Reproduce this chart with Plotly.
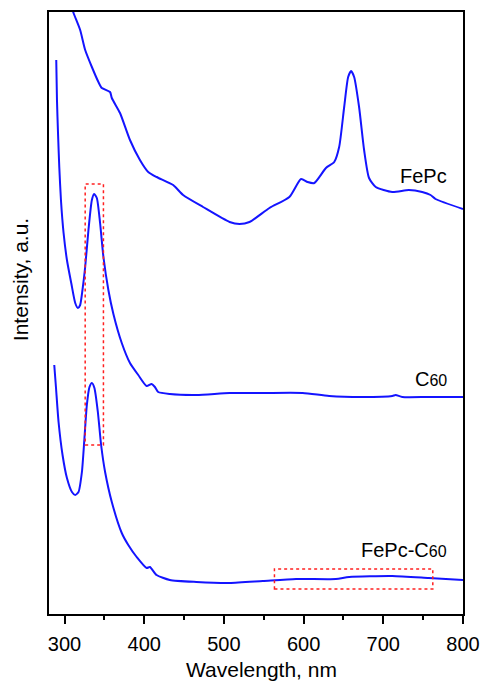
import plotly.graph_objects as go

# ---- data (wavelength in nm, intensity in arbitrary units, offset stacked) ----
fepc_wl = [307, 311.3, 319.6, 325.9, 334.3, 342.5, 346.8, 357.1, 359.3, 369.6, 382.1, 394.6,
           405.0, 415.5, 436.3, 448.8, 473.8, 507.1, 519.6, 532.1, 557.1, 582.1, 596.8, 605.0,
           613.4, 628.0, 638.4, 644.6, 650.9, 655.9, 659.6, 663.4, 669.6, 675.9, 682.1, 690.5,
           711.3, 732.1, 748.8, 759.3, 765.5, 800]
fepc_int = [6.12, 6.01, 5.84, 5.64, 5.47, 5.32, 5.26, 5.22, 5.16, 5.01, 4.74, 4.54,
            4.42, 4.37, 4.29, 4.19, 4.07, 3.92, 3.90, 3.92, 4.06, 4.17, 4.35, 4.32,
            4.31, 4.46, 4.52, 4.67, 5.07, 5.37, 5.43, 5.37, 5.07, 4.64, 4.36, 4.27,
            4.22, 4.24, 4.22, 4.19, 4.15, 4.05]

c60_wl = [289.6, 290.5, 291.8, 293.4, 295.5, 298.8, 303.0, 308.4, 313.4, 316.8, 319.6, 322.5,
          325.9, 330.0, 334.3, 337.1, 340.5, 344.6, 348.8, 355.0, 361.3, 371.8, 382.1, 392.5,
          403.0, 409.3, 413.4, 417.5, 432.1, 465.5, 507.1, 548.8, 598.8, 632.1, 673.8, 711.3,
          715.5, 723.8, 757.1, 800]
c60_int = [5.54, 5.14, 4.81, 4.47, 4.14, 3.81, 3.54, 3.31, 3.11, 3.06, 3.09, 3.24,
           3.47, 3.84, 4.14, 4.20, 4.16, 3.91, 3.57, 3.24, 3.00, 2.71, 2.51, 2.39,
           2.28, 2.30, 2.27, 2.22, 2.20, 2.19, 2.21, 2.21, 2.21, 2.18, 2.17, 2.18,
           2.19, 2.17, 2.17, 2.17]

mix_wl = [287.1, 289.3, 292.5, 297.5, 303.0, 309.3, 313.4, 317.5, 321.8, 325.0, 328.0, 331.3,
          334.3, 337.5, 341.8, 345.9, 350.9, 359.3, 371.8, 380.0, 390.5, 403.0, 407.1,
          415.5, 432.1, 465.5, 507.1, 548.8, 590.5, 640.5, 657.1, 711.3, 757.1, 800]
mix_int = [2.49, 2.26, 1.92, 1.59, 1.36, 1.22, 1.19, 1.22, 1.42, 1.76, 2.09, 2.27,
           2.31, 2.26, 2.02, 1.69, 1.42, 1.12, 0.81, 0.69, 0.57, 0.46, 0.47,
           0.39, 0.34, 0.32, 0.31, 0.33, 0.35, 0.35, 0.37, 0.38, 0.36, 0.34]

series_names = ["FePc", "C60", "FePc-C60"]
label_texts = ["FePc", "C<span style='font-size:16px'>60</span>",
               "FePc-C<span style='font-size:16px'>60</span>"]
label_x = [783, 783, 783]
label_y = [4.38, 2.35, 0.64]

# highlighted regions (x0, x1, y0, y1)
box_x0 = [325.9, 563.4]
box_x1 = [348.8, 762.1]
box_y0 = [1.69, 0.25]
box_y1 = [4.30, 0.45]

x_ticks = [300, 400, 500, 600, 700, 800]
x_title = "Wavelength, nm"
y_title = "Intensity, a.u."

FONT = "Liberation Sans, Arial, sans-serif"
BLUE = "#1414ff"

fig = go.Figure()
for wl, it, nm in [(fepc_wl, fepc_int, series_names[0]),
                   (c60_wl, c60_int, series_names[1]),
                   (mix_wl, mix_int, series_names[2])]:
    fig.add_trace(go.Scatter(x=wl, y=it, mode="lines", name=nm,
                             line=dict(color=BLUE, width=2, shape="spline", smoothing=0.6),
                             showlegend=False))

for x0, x1, y0, y1 in zip(box_x0, box_x1, box_y0, box_y1):
    fig.add_shape(type="rect", xref="x", yref="y", x0=x0, x1=x1, y0=y0, y1=y1,
                  line=dict(color="#ff2020", width=1.5, dash="dot"))

for t, x, y in zip(label_texts, label_x, label_y):
    fig.add_annotation(x=x, y=y, xref="x", yref="y", text=t, showarrow=False,
                       xanchor="right", yanchor="middle",
                       font=dict(family=FONT, size=20, color="black"))

# axis titles
fig.add_annotation(x=0.514, y=-0.093, xref="paper", yref="paper", text=x_title,
                   showarrow=False, xanchor="center", yanchor="middle",
                   font=dict(family=FONT, size=21, color="black"))
fig.add_annotation(x=-0.067, y=0.555, xref="paper", yref="paper", text=y_title,
                   showarrow=False, xanchor="center", yanchor="middle", textangle=-90,
                   font=dict(family=FONT, size=21, color="black"))

fig.update_layout(
    width=484, height=686,
    margin=dict(l=49, r=21, t=12, b=72),
    paper_bgcolor="white", plot_bgcolor="white",
    font=dict(family=FONT, size=20, color="black"),
)
fig.update_xaxes(range=[280.5, 800], tickvals=x_ticks, ticks="outside", ticklen=8,
                 tickwidth=2, tickcolor="black", showline=True, linewidth=2,
                 linecolor="black", mirror=True, showgrid=False, zeroline=False,
                 automargin=False, ticklabelstandoff=3,
                 minor=dict(dtick=50, tick0=250, ticks="outside", ticklen=4, tickwidth=2,
                            tickcolor="black", showgrid=False),
                 tickfont=dict(size=20))
fig.update_yaxes(range=[0, 6.02], showticklabels=False, ticks="", showline=True,
                 linewidth=2, linecolor="black", mirror=True, showgrid=False,
                 zeroline=False, automargin=False)

# remove the page's default 8px body margin so the figure fills the window exactly
fig.write_html("out.html", config={"displayModeBar": False},
               post_script="document.body.style.margin='0';document.body.style.overflow='hidden';")
